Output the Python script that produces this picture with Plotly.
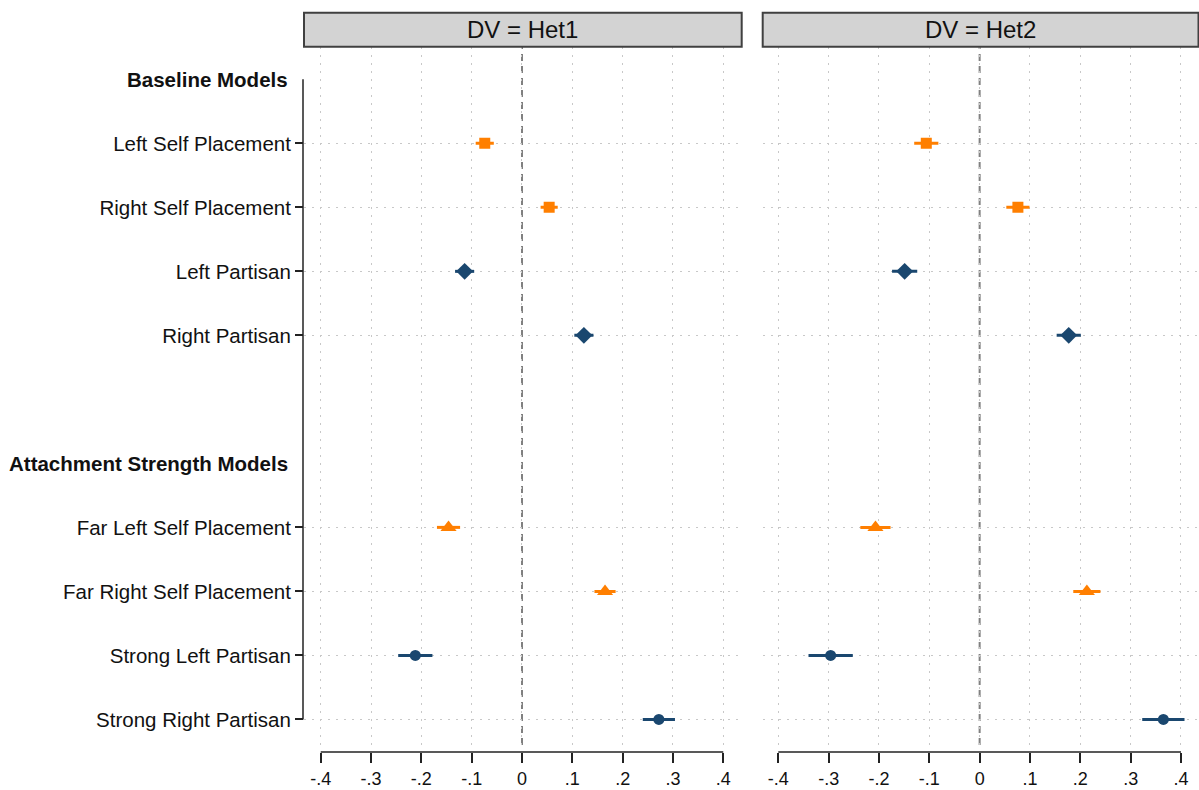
import plotly.graph_objects as go

# ---- data ----
labels = ["Left Self Placement", "Right Self Placement", "Left Partisan", "Right Partisan",
          "Far Left Self Placement", "Far Right Self Placement", "Strong Left Partisan",
          "Strong Right Partisan"]
group_headers = ["Baseline Models", "Attachment Strength Models"]
category_order = ["Baseline Models", "Left Self Placement", "Right Self Placement", "Left Partisan",
                  "Right Partisan", " ", "Attachment Strength Models", "Far Left Self Placement",
                  "Far Right Self Placement", "Strong Left Partisan", "Strong Right Partisan"]

het1_est = [-0.074, 0.054, -0.114, 0.123, -0.146, 0.165, -0.212, 0.272]
het1_ci = [0.018, 0.017, 0.019, 0.019, 0.023, 0.021, 0.034, 0.032]
het2_est = [-0.106, 0.076, -0.149, 0.177, -0.207, 0.213, -0.296, 0.365]
het2_ci = [0.024, 0.023, 0.025, 0.024, 0.030, 0.027, 0.044, 0.042]

panel_titles = ["DV = Het1", "DV = Het2"]
tick_vals = [-0.4, -0.3, -0.2, -0.1, 0, 0.1, 0.2, 0.3, 0.4]
tick_text = ["-.4", "-.3", "-.2", "-.1", "0", ".1", ".2", ".3", ".4"]

ORANGE = "#ff7f00"
NAVY = "#1a476f"
groups = [  # (indices, color, symbol, size)
    ([0, 1], ORANGE, "square", 11),
    ([2, 3], NAVY, "diamond", 13),
    ([4, 5], ORANGE, "triangle-up", 14),
    ([6, 7], NAVY, "circle", 11),
]

W, H = 1199, 790
FONT = "Liberation Sans, Arial, sans-serif"

fig = go.Figure()
for p, (est, ci) in enumerate([(het1_est, het1_ci), (het2_est, het2_ci)]):
    xa = "x" if p == 0 else "x2"
    ya = "y" if p == 0 else "y2"
    for idx, color, sym, size in groups:
        fig.add_trace(go.Scatter(
            x=[est[i] for i in idx], y=[labels[i] for i in idx],
            mode="markers", xaxis=xa, yaxis=ya,
            marker=dict(color=color, symbol=sym, size=size, line=dict(width=0)),
            error_x=dict(type="data", array=[ci[i] for i in idx], symmetric=True,
                         color=color, thickness=3, width=0),
            showlegend=False, hoverinfo="skip"))

ydom = [1 - 745 / H, 1 - 47 / H]
xdom1 = [304 / W, 741.7 / W]
xdom2 = [762.7 / W, 1198.5 / W]
xpos = 1 - 752 / H
grid = dict(showgrid=True, gridcolor="#c8c8c8", gridwidth=1, griddash="2px,6px")

xcommon = dict(anchor="free", position=xpos, tickvals=tick_vals, ticktext=tick_text,
               ticks="outside", ticklen=10, tickwidth=1.5, tickcolor="#222222",
               showline=False, zeroline=False, tickfont=dict(size=18, color="#111111"), **grid)
fig.update_layout(
    width=W, height=H, margin=dict(l=0, r=0, t=0, b=0),
    plot_bgcolor="white", paper_bgcolor="white",
    font=dict(family=FONT, color="#111111"),
    showlegend=False,
    xaxis=dict(domain=xdom1, range=[-0.4332, 0.4366], **xcommon),
    xaxis2=dict(domain=xdom2, range=[-0.431, 0.4348], **xcommon),
    yaxis=dict(domain=ydom, type="category", categoryarray=category_order,
               categoryorder="array", range=[10.40, -0.505],
               tickvals=labels, ticks="outside", ticklen=8, tickwidth=1.5, tickcolor="#222222",
               anchor="free", position=303 / W, showline=False, zeroline=False,
               tickfont=dict(size=20.5, color="#111111"), **grid),
    yaxis2=dict(domain=ydom, type="category", categoryarray=category_order,
                categoryorder="array", matches="y", anchor="x2",
                tickvals=labels, showticklabels=False, ticks="",
                showline=False, zeroline=False, **grid),
)

shapes = []
for xr, dom in [("x", xdom1), ("x2", xdom2)]:
    # x axis line spanning -.4 .. .4
    shapes.append(dict(type="line", xref=xr, yref="paper", x0=-0.4, x1=0.4, y0=xpos, y1=xpos,
                       line=dict(color="#222222", width=1.5)))
    # dashed zero reference line
    shapes.append(dict(type="line", xref=xr, yref="paper", x0=0, x1=0, y0=ydom[0], y1=ydom[1],
                       line=dict(color="#808080", width=2, dash="7px,5px"), layer="below"))
    # header strip
    shapes.append(dict(type="rect", xref="paper", yref="paper", x0=dom[0], x1=dom[1],
                       y0=1 - 46.7 / H, y1=1 - 12.7 / H, fillcolor="#d3d3d3",
                       line=dict(color="#404040", width=2)))
# y axis line
shapes.append(dict(type="line", xref="paper", yref="y", x0=303 / W, x1=303 / W, y0=0, y1=10,
                   line=dict(color="#222222", width=1.5)))
fig.update_layout(shapes=shapes)

annotations = []
for t, dom in zip(panel_titles, [xdom1, xdom2]):
    annotations.append(dict(text=t, xref="paper", yref="paper", x=(dom[0] + dom[1]) / 2,
                            y=1 - 29.7 / H, xanchor="center", yanchor="middle", showarrow=False,
                            font=dict(size=24, color="#111111")))
for g in group_headers:
    annotations.append(dict(text="<b>" + g + "</b>", xref="paper", yref="y", x=290 / W, y=g,
                            xanchor="right", yanchor="middle", showarrow=False,
                            font=dict(size=20.5, color="#111111")))
fig.update_layout(annotations=annotations)

fig.write_html("out.html", config={"displayModeBar": False},
               post_script="document.body.style.margin='0';document.body.style.overflow='hidden';")
